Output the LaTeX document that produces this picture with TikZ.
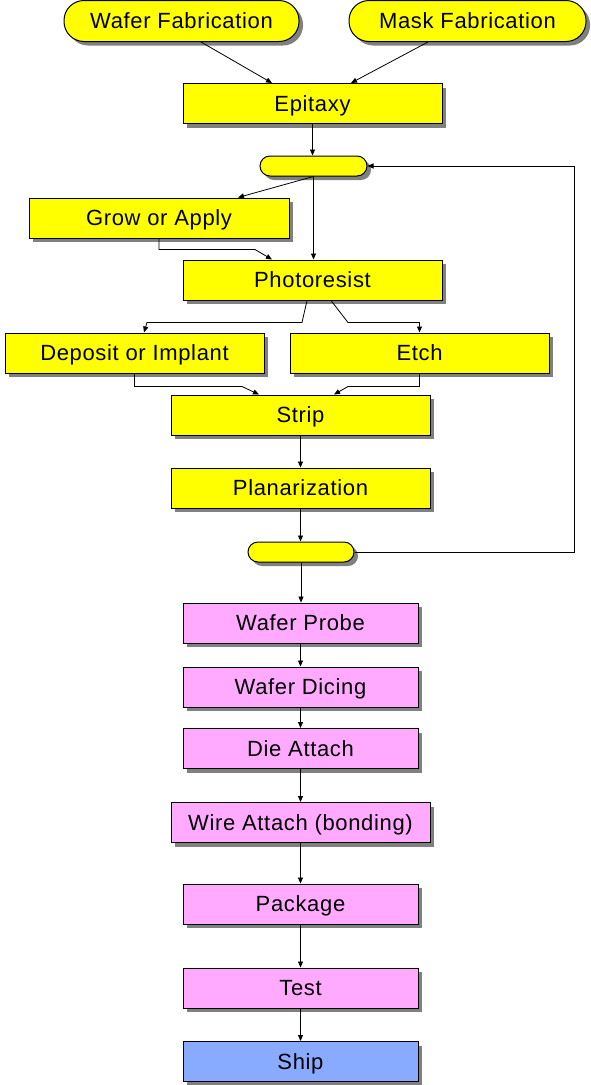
\documentclass[tikz,border=0pt]{standalone}
\usepackage{fontspec}
\setmainfont[LetterSpace=3]{Liberation Sans}
\usetikzlibrary{arrows.meta,shadows,calc}
\definecolor{boxyellow}{RGB}{255,255,0}
\definecolor{boxpink}{RGB}{255,170,255}
\definecolor{boxblue}{RGB}{136,170,255}
\definecolor{shadowgray}{RGB}{128,128,128}
\tikzset{
  base/.style={draw=black, line width=1pt, inner sep=0pt, text height=15.5pt, text depth=0pt,
    font=\fontsize{22}{26}\selectfont,
    drop shadow={shadow xshift=4pt, shadow yshift=-4pt, fill=shadowgray, opacity=1}},
  ybox/.style={base, rectangle, fill=boxyellow, minimum width=259pt, minimum height=40pt},
  pbox/.style={base, rectangle, fill=boxpink, minimum width=235pt, minimum height=40pt},
  pill/.style={base, rectangle, fill=boxyellow, rounded corners=20pt, minimum height=41pt},
  smallpill/.style={base, rectangle, fill=boxyellow, rounded corners=10pt, minimum width=106pt, minimum height=20pt},
  arr/.style={draw=black, line width=0.8pt, -{Triangle[length=6pt,width=5pt]}},
  conn/.style={draw=black, line width=0.8pt}
}
\begin{document}
\begin{tikzpicture}[x=1pt,y=-1pt]
\useasboundingbox (0,0) rectangle (590,1085);
% nodes
\node[pill, minimum width=235pt] (wf) at (181.5,21) {Wafer Fabrication};
\node[pill, minimum width=237pt] (mf) at (467.5,21) {Mask Fabrication};
\node[ybox] (epi) at (312.5,103.5) {Epitaxy};
\node[smallpill, minimum width=107pt] (p1) at (313.5,166) {};
\node[ybox, minimum width=260pt] (grow) at (159,218) {Grow or Apply};
\node[ybox] (photo) at (312.5,280) {Photoresist};
\node[ybox] (dep) at (134.5,353) {Deposit or Implant};
\node[ybox] (etch) at (419.5,353) {Etch};
\node[ybox] (strip) at (300.5,415) {Strip};
\node[ybox] (plan) at (300.5,488) {Planarization};
\node[smallpill] (p2) at (301,552) {};
\node[pbox] (probe) at (300.5,623) {Wafer Probe};
\node[pbox] (dicing) at (300.5,687) {Wafer Dicing};
\node[pbox] (die) at (300.5,748.5) {Die Attach};
\node[pbox, minimum width=259pt] (wire) at (300.5,822.5) {Wire Attach (bonding)};
\node[pbox] (pkg) at (300.5,904) {Package};
\node[pbox] (test) at (300.5,988) {Test};
\node[pbox, fill=boxblue] (ship) at (300.5,1061.5) {Ship};
\coordinate (loopx) at (574,0);
% connectors
\draw[arr] ([xshift=19.5pt]wf.south) -- ([xshift=-40.5pt]epi.north);
\draw[arr] ([xshift=-39.5pt]mf.south) -- ([xshift=38.5pt]epi.north);
\draw[arr] (epi.south) -- (epi.south |- p1.north);
\draw[arr] (p1.south) -- ([xshift=79pt]grow.north);
\draw[arr] (p1.south) -- (p1.south |- photo.north);
\draw[arr] (grow.south) -- ++(0,11) -- ++(96,0) -- ([xshift=-40.5pt]photo.north);
\draw[arr] ([xshift=-5.5pt]photo.south) -- ++(-5,22) -- ++(-155,0) -- ([xshift=9.5pt]dep.north);
\draw[arr] ([xshift=18.5pt]photo.south) -- ++(17,22) -- ++(71.5,0) -- (etch.north);
\draw[arr] (dep.south) -- ++(0,13) -- ++(107.5,0) -- ([xshift=-41.5pt]strip.north);
\draw[arr] (etch.south) -- ++(0,13) -- ++(-71.5,0) -- ([xshift=33.5pt]strip.north);
\draw[arr] (strip.south) -- (plan.north);
\draw[arr] (plan.south) -- (plan.south |- p2.north);
\draw[arr] (p2.east) -- (p2.east -| loopx) -- (p1.east -| loopx) -- (p1.east);
\draw[arr] (p2.south) -- (p2.south |- probe.north);
\draw[arr] (probe.south) -- (dicing.north);
\draw[arr] (dicing.south) -- (die.north);
\draw[arr] (die.south) -- (wire.north);
\draw[arr] (wire.south) -- (pkg.north);
\draw[arr] (pkg.south) -- (test.north);
\draw[arr] (test.south) -- (ship.north);
\end{tikzpicture}
\end{document}
